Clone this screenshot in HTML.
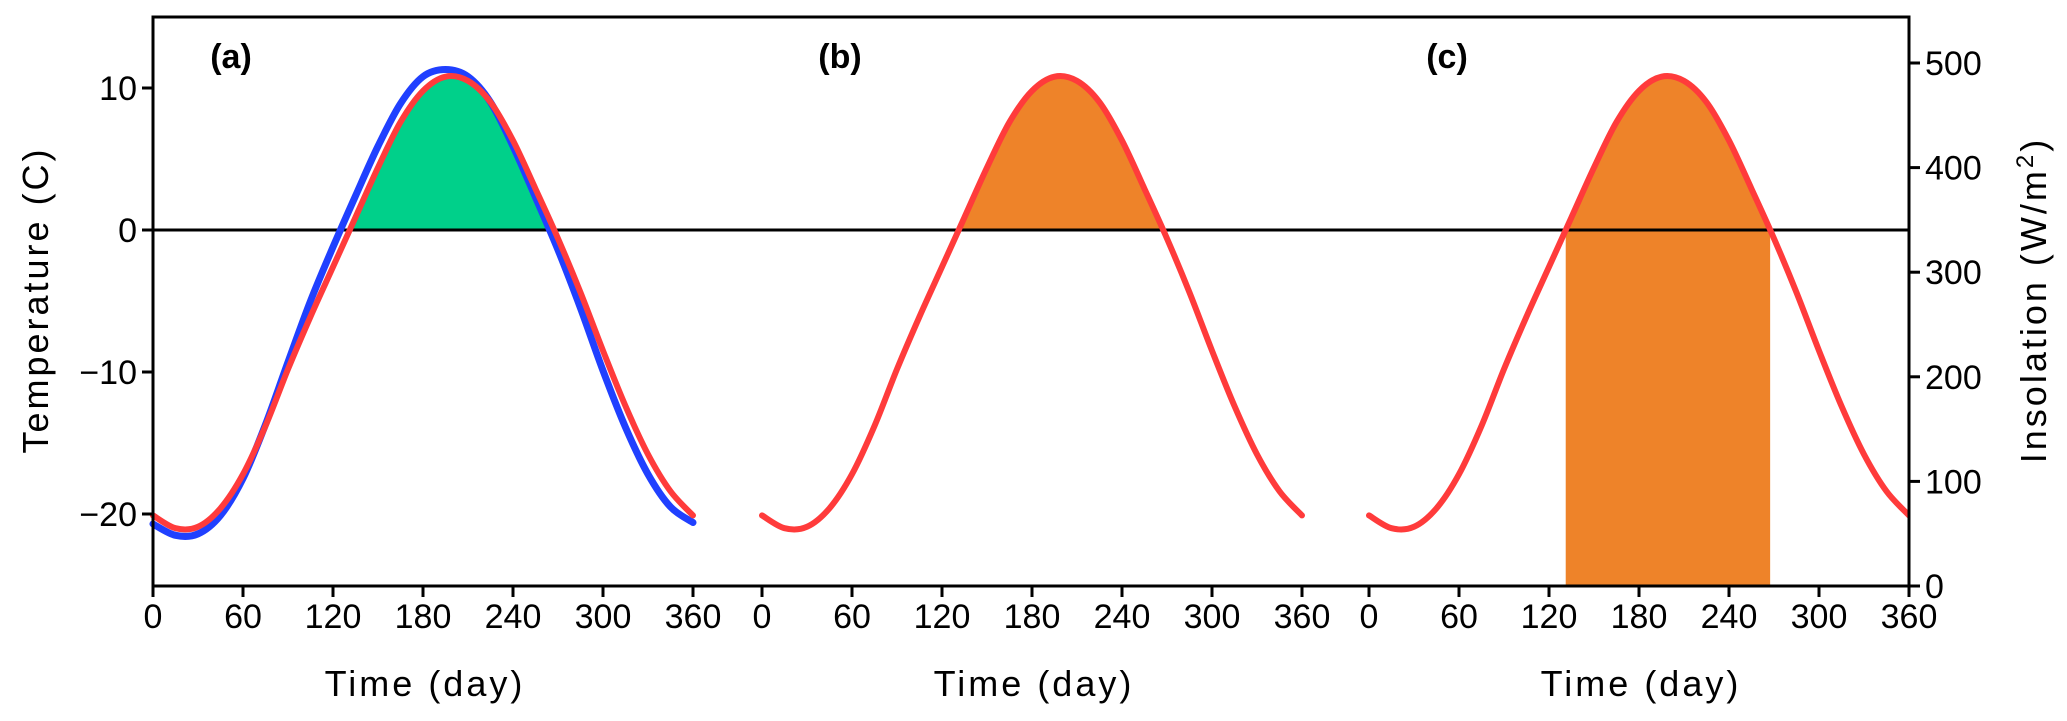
<!DOCTYPE html>
<html><head><meta charset="utf-8"><style>
html,body{margin:0;padding:0;background:#fff;}
svg{display:block;}
text{font-family:"Liberation Sans","DejaVu Sans",sans-serif;fill:#000;}
</style></head><body>
<svg id="chart" width="2067" height="721" viewBox="0 0 2067 721" xmlns="http://www.w3.org/2000/svg">
<defs>
<clipPath id="clipAbove"><rect x="153" y="17" width="1756" height="213"/></clipPath>
<clipPath id="clipFrame"><rect x="153" y="17" width="1756" height="569"/></clipPath>
</defs>
<g id="fills"></g>
<g id="lines"></g>
<g id="axes"></g>
</svg>
<script>
const days = [0,15,30,45,60,75,90,105,120,135,150,165,180,195,210,225,240,255,270,285,300,315,330,345,360];
const redTemp = [-20.1,-21.0,-20.9,-19.6,-17.2,-13.8,-9.8,-6.1,-2.6,0.9,4.4,7.6,9.8,10.8,10.5,9.0,6.3,2.9,-0.6,-4.4,-8.5,-12.4,-15.8,-18.4,-20.1];
const blueTemp = [-20.7,-21.5,-21.4,-20.1,-17.5,-13.7,-9.3,-5.0,-1.2,2.4,5.9,8.9,10.8,11.3,10.8,9.0,5.9,2.3,-1.4,-5.5,-9.9,-13.9,-17.2,-19.5,-20.6];
const xTicks = [0,60,120,180,240,300,360];
const yTicks = [-20,-10,0,10];
const rTicks = [0,100,200,300,400,500];
const panelStarts = [153,762,1369];
const panelNames = ['(a)','(b)','(c)'];

const NS='http://www.w3.org/2000/svg';
const svg=document.getElementById('chart');
const gF=document.getElementById('fills'),gL=document.getElementById('lines'),gA=document.getElementById('axes');
const L=153,R=1909,T=17,B=586;
function yT(v){return 230-14.2*v;}
function yI(v){return 586-v*(586-63)/500;}
function xD(p,d){return panelStarts[p]+d*1.5;}
function mk(tag,attrs,parent){const e=document.createElementNS(NS,tag);for(const k in attrs)e.setAttribute(k,attrs[k]);parent.appendChild(e);return e;}
function pts(p,vals){return days.map((d,i)=>[xD(p,d),yT(vals[i])]);}
function smooth(P){let s='M'+P[0][0]+','+P[0][1];for(let i=0;i<P.length-1;i++){const p0=P[Math.max(i-1,0)],p1=P[i],p2=P[i+1],p3=P[Math.min(i+2,P.length-1)];const c1=[p1[0]+(p2[0]-p0[0])/6,p1[1]+(p2[1]-p0[1])/6],c2=[p2[0]-(p3[0]-p1[0])/6,p2[1]-(p3[1]-p1[1])/6];s+=' C'+c1[0]+','+c1[1]+' '+c2[0]+','+c2[1]+' '+p2[0]+','+p2[1];}return s;}
function crossings(vals){const c=[];for(let i=0;i<vals.length-1;i++){if((vals[i]<0)!==(vals[i+1]<0)){c.push(days[i]+(0-vals[i])/(vals[i+1]-vals[i])*(days[i+1]-days[i]));}}return c;}

[[0,'#00D08A','fill-a-above-zero'],[1,'#EE8329','fill-b-above-zero']].forEach(([p,col,nm])=>{
  const P=pts(p,redTemp);
  const d=smooth(P)+' L'+P[P.length-1][0]+',230 L'+P[0][0]+',230 Z';
  const e=mk('path',{d:d,fill:col,'clip-path':'url(#clipAbove)'},gF);
  
  
});
(function(){
  const c=crossings(redTemp);
  const x0=xD(2,c[0]),x1=xD(2,c[1]);
  const cp=mk('clipPath',{id:'clipC'},svg.querySelector('defs'));
  mk('rect',{x:x0,y:T,width:x1-x0,height:B-T},cp);
  const P=pts(2,redTemp);
  const d=smooth(P)+' L'+P[P.length-1][0]+','+B+' L'+P[0][0]+','+B+' Z';
  const e=mk('path',{d:d,fill:'#EE8329','clip-path':'url(#clipC)'},gF);
  
  
})();

const z=mk('line',{x1:L,y1:yT(0),x2:R,y2:yT(0),stroke:'#000','stroke-width':3},gL);



{const e=mk('path',{d:smooth(pts(0,blueTemp)),fill:'none',stroke:'#2040FF','stroke-width':7,'stroke-linecap':'round'},gL);

}
[0,1,2].forEach(p=>{
  const e=mk('path',{d:smooth(pts(p,redTemp)),fill:'none',stroke:'#FF3B3B','stroke-width':6,'stroke-linecap':'round','clip-path':p==2?'url(#clipFrame)':''},gL);
  
  
});

{const e=mk('rect',{x:L,y:T,width:R-L,height:B-T,fill:'none',stroke:'#000','stroke-width':3},gA);

}

yTicks.forEach(v=>{
  const y=yT(v);
  mk('line',{x1:L-11,y1:y,x2:L,y2:y,stroke:'#000','stroke-width':3},gA);
  const t=mk('text',{x:L-16,y:y+12,'text-anchor':'end','font-size':34},gA);
  t.textContent=(v<0?'\u2212':'')+Math.abs(v);
  
  
});
rTicks.forEach(v=>{
  const y=yI(v);
  mk('line',{x1:R,y1:y,x2:R+11,y2:y,stroke:'#000','stroke-width':3},gA);
  const t=mk('text',{x:R+16,y:y+12,'text-anchor':'start','font-size':34},gA);
  t.textContent=v;
  
  
});
[0,1,2].forEach(p=>{
  xTicks.forEach(d=>{
    const x=xD(p,d);
    mk('line',{x1:x,y1:B,x2:x,y2:B+11,stroke:'#000','stroke-width':3},gA);
    const t=mk('text',{x:x,y:628,'text-anchor':'middle','font-size':34},gA);
    t.textContent=d;
    
    
  });
  const t=mk('text',{x:xD(p,180)+2,y:696,'text-anchor':'middle','font-size':36,'letter-spacing':'3'},gA);
  t.textContent='Time (day)';
  
  
  const lb=mk('text',{x:xD(p,52),y:68,'text-anchor':'middle','font-size':34,'font-weight':'bold'},gA);
  lb.textContent=panelNames[p];
  
  
});
{const t=mk('text',{x:0,y:0,'text-anchor':'middle','font-size':36,'letter-spacing':'3',transform:'translate(48,300) rotate(-90)'},gA);
t.textContent='Temperature (C)';

}
{const t=mk('text',{x:0,y:0,'text-anchor':'middle','font-size':36,'letter-spacing':'3',transform:'translate(2046,300) rotate(-90)'},gA);
t.innerHTML='Insolation (W/m<tspan dy="-13" font-size="24">2</tspan><tspan dy="13">)</tspan>';

}
</script>
</body></html>
